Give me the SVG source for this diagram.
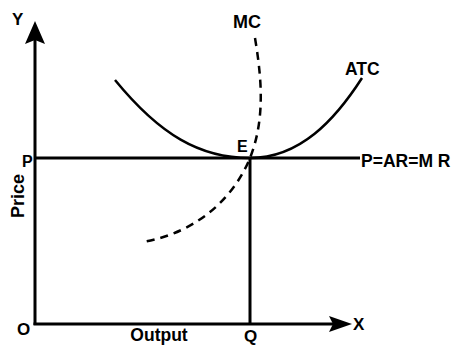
<svg xmlns="http://www.w3.org/2000/svg" width="456" height="345" viewBox="0 0 456 345">
<style>
.ax{stroke:#000;stroke-width:3;fill:none}
.crv{stroke:#000;stroke-width:2.5;fill:none}
.dash{stroke:#000;stroke-width:2.5;fill:none;stroke-dasharray:8 6}
.ah{fill:#000;stroke:none}
text{font-family:"Liberation Sans",Arial,sans-serif;font-weight:bold;fill:#000}
</style>
<rect width="456" height="345" fill="#fff"/>
<g id="axes">
<line class="ax" x1="35" y1="38" x2="35" y2="325"/>
<line class="ax" x1="33.5" y1="324" x2="334" y2="324"/>
<path class="ah" d="M35,21 L45,44 L35,40 L25,44 Z"/>
<path class="ah" d="M352,324 L329,316 L333,324 L329,332 Z"/>
</g>
<g id="connectors">
<line class="ax" x1="35" y1="158" x2="360" y2="158"/>
<line class="ax" x1="250" y1="158" x2="250" y2="324"/>
</g>
<g id="ATC">
<path class="crv" d="M115,80 C160,135 200,158 250,158 C300,158 335,120 362,78"/>
<text x="345" y="75" font-size="17.5">ATC</text>
</g>
<g id="MC">
<path class="dash" d="M255,38 C262,80 265,120 250,158 C235,195 200,232 143,242"/>
<text x="233" y="28" font-size="18">MC</text>
</g>
<g id="labels">
<text x="12" y="25" font-size="17">Y</text>
<text x="22" y="167" font-size="16">P</text>
<text x="237" y="152" font-size="16">E</text>
<text x="361" y="167" font-size="17.5">P=AR=M R</text>
<text x="17" y="335" font-size="17">O</text>
<text x="353" y="330" font-size="17">X</text>
<text x="244" y="342" font-size="17">Q</text>
<text x="159" y="341" font-size="17.5" text-anchor="middle">Output</text>
<text transform="translate(24,196) rotate(-90)" font-size="18" text-anchor="middle">Price</text>
</g>
</svg>
